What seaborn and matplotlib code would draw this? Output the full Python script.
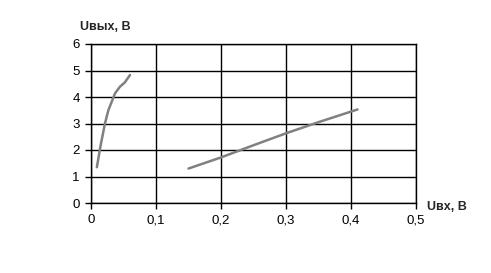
import matplotlib
matplotlib.use("Agg")
import matplotlib.pyplot as plt
import seaborn as sns
import pandas as pd

sns.set_theme(style="white")
plt.rcParams['font.family'] = ['Liberation Sans', 'DejaVu Sans']

# Series 1 (steep curve near origin)
x1 = [0.009, 0.015, 0.0215, 0.0267, 0.037, 0.0446, 0.052, 0.06]
y1 = [1.35, 2.2, 3.0, 3.5, 4.14, 4.39, 4.55, 4.83]
# Series 2 (nearly linear)
x2 = [0.15, 0.2, 0.25, 0.3, 0.35, 0.41]
y2 = [1.3, 1.72, 2.18, 2.63, 3.05, 3.53]

xticks = [0, 0.1, 0.2, 0.3, 0.4, 0.5]
xtick_labels = ["0", "0,1", "0,2", "0,3", "0,4", "0,5"]
yticks = [0, 1, 2, 3, 4, 5, 6]

df1 = pd.DataFrame({"x": x1, "y": y1})
df2 = pd.DataFrame({"x": x2, "y": y2})

fig = plt.figure(figsize=(4.91, 2.73), dpi=100)
ax = fig.add_axes([91/491, 1-203/273, (416-91)/491, (203-44)/273])

sns.lineplot(data=df1, x="x", y="y", sort=False, color="#808080", lw=1.8, ax=ax)
sns.lineplot(data=df2, x="x", y="y", sort=False, color="#808080", lw=1.8, ax=ax)

ax.set_xlim(0, 0.5)
ax.set_ylim(0, 6)
ax.set_xticks(xticks)
ax.set_xticklabels(xtick_labels)
ax.set_yticks(yticks)
ax.grid(True, color="black", lw=1)
ax.set_axisbelow(True)
for s in ax.spines.values():
    s.set_color("black")
    s.set_linewidth(1)
ax.tick_params(axis="both", direction="out", length=4, width=1, color="black",
               labelsize=9.5, labelcolor="black", pad=4, left=True, bottom=True)
ax.set_xlabel("")
ax.set_ylabel("")

fig.text(80/491, 1-27/273, "Uвых, В", fontsize=9, fontweight="bold", ha="left", va="center")
fig.text(427/491, 1-207/273, "Uвх, В", fontsize=9, fontweight="bold", ha="left", va="center")

fig.savefig("out.png", dpi=100, facecolor="white")
